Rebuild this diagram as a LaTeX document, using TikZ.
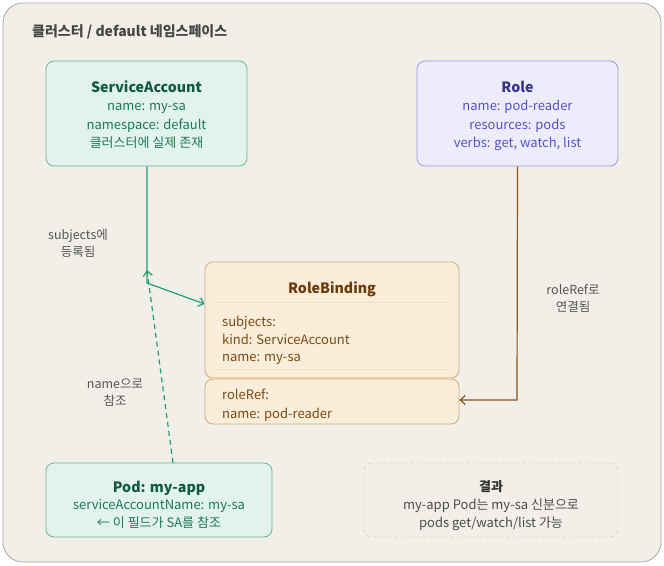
\documentclass[tikz,border=0pt]{standalone}
\usepackage{fontspec}
\setmainfont{Noto Sans CJK KR}
\usetikzlibrary{arrows.meta}
\definecolor{bgc}{HTML}{F1EFE8}
\definecolor{framec}{HTML}{A9A79E}
\definecolor{gfill}{HTML}{E1F3EC}
\definecolor{gdraw}{HTML}{6DB596}
\definecolor{gtitle}{HTML}{0F5A40}
\definecolor{gtext}{HTML}{1D7A55}
\definecolor{pfill}{HTML}{EDECFB}
\definecolor{pdraw}{HTML}{9D97E3}
\definecolor{ptitle}{HTML}{3C3489}
\definecolor{ptext}{HTML}{5A50C8}
\definecolor{ofill}{HTML}{FAEDDA}
\definecolor{odraw}{HTML}{D2AE7C}
\definecolor{osep}{HTML}{EEDFC8}
\definecolor{otitle}{HTML}{6B3A0C}
\definecolor{otext}{HTML}{7A4A12}
\definecolor{garrow}{HTML}{1D9E75}
\definecolor{barrow}{HTML}{8A5518}
\definecolor{lblc}{HTML}{555550}
\definecolor{resdraw}{HTML}{DAD6CC}
\tikzset{
  box/.style={rounded corners=8pt, line width=0.8pt, inner sep=0pt},
  gbox/.style={box, fill=gfill, draw=gdraw},
  pbox/.style={box, fill=pfill, draw=pdraw},
  obox/.style={box, fill=ofill, draw=odraw},
  rbox/.style={box, draw=resdraw, dashed, dash pattern=on 4pt off 3pt},
  ttl/.style={font=\bfseries\fontsize{14.2}{17}\selectfont, inner sep=0pt, anchor=base, yshift=-5pt},
  txt/.style={font=\fontsize{13}{15}\selectfont, inner sep=0pt, anchor=base, yshift=-4.6pt},
  ltxt/.style={font=\fontsize{13}{15}\selectfont, inner sep=0pt, anchor=base west, yshift=-4.6pt},
  lbl/.style={font=\fontsize{12.5}{15}\selectfont, text=lblc, inner sep=0pt, anchor=base, yshift=-4.4pt},
  tip/.style={-{Straight Barb[length=5pt,width=9pt]}}
}
\begin{document}
\begin{tikzpicture}[x=1pt,y=-1pt]
\useasboundingbox (0,0) rectangle (664,565);
\draw[fill=bgc, draw=framec, line width=0.8pt, rounded corners=20pt] (3,3) rectangle (661,562);
\node[font=\bfseries\fontsize{14}{17}\selectfont, text=black!72, anchor=base west, inner sep=0pt, yshift=-5pt] (title) at (32,31) {클러스터 / default 네임스페이스};

% ServiceAccount
\node[gbox, minimum width=201pt, minimum height=105pt] (sa) at (146.5,113.5) {};
\node[ttl, text=gtitle] (sat) at (146.5,87) {ServiceAccount};
\node[txt, text=gtext] (sa1) at (146.5,105.5) {name: my-sa};
\node[txt, text=gtext] (sa2) at (146.5,124.5) {namespace: default};
\node[txt, text=gtext] (sa3) at (146.5,143) {클러스터에 실제 존재};

% Role
\node[pbox, minimum width=201pt, minimum height=105pt] (role) at (517.5,113.5) {};
\node[ttl, text=ptitle] (rt) at (517.5,87) {Role};
\node[txt, text=ptext] (r1) at (517.5,105.5) {name: pod-reader};
\node[txt, text=ptext] (r2) at (517.5,124.5) {resources: pods};
\node[txt, text=ptext] (r3) at (517.5,143) {verbs: get, watch, list};

% RoleBinding
\node[obox, minimum width=254pt, minimum height=116pt] (rb) at (332,320) {};
\node[ttl, text=otitle] (rbt) at (332,288) {RoleBinding};
\draw[osep, line width=0.8pt] (215,302) -- (449,302);
\draw[osep, line width=0.8pt] (215,369) -- (449,369);
\node[ltxt, text=otext] (rb1) at (222,322) {subjects:};
\node[ltxt, text=otext] (rb2) at (222,340) {kind: ServiceAccount};
\node[ltxt, text=otext] (rb3) at (222,357) {name: my-sa};
\node[obox, minimum width=254pt, minimum height=45pt] (rr) at (332,401.5) {};
\node[ltxt, text=otext] (rr1) at (222,395) {roleRef:};
\node[ltxt, text=otext] (rr2) at (222,414) {name: pod-reader};

% Pod
\node[gbox, minimum width=226pt, minimum height=74pt] (pod) at (159,500) {};
\node[ttl, text=gtitle] (podt) at (159,487) {Pod: my-app};
\node[txt, text=gtext] (p1) at (159,505) {serviceAccountName: my-sa};
\node[txt, text=gtext] (p2) at (159,523) {← 이 필드가 SA를 참조};

% Result
\node[rbox, minimum width=254pt, minimum height=74pt] (res) at (491,500) {};
\node[font=\bfseries\fontsize{13}{15}\selectfont, text=black!80, inner sep=0pt, anchor=base, yshift=-4.6pt] (rest) at (491,487) {결과};
\node[txt, text=black!70] (res1) at (491,505) {my-app Pod는 my-sa 신분으로};
\node[txt, text=black!70] (res2) at (491,523) {pods get/watch/list 가능};

% connectors
\coordinate (bend) at (147,283);
\coordinate (meet) at (147,270);
\draw[garrow, line width=1.2pt, tip] (sa.south -| bend) -- (bend) -- (rb.west |- 0,304);
\draw[garrow, line width=1.2pt, dashed, dash pattern=on 5pt off 4pt, tip] (pod.north -| 173,0) -- (meet);
\draw[barrow, line width=1.2pt, tip] (role.south) -- (517,400) -- (rr.east |- 0,400);

% labels
\node[lbl] (l1a) at (78,235) {subjects에};
\node[lbl] (l1b) at (78,252) {등록됨};
\node[lbl] (l2a) at (115,384) {name으로};
\node[lbl] (l2b) at (115,401) {참조};
\node[lbl] (l3a) at (573,290) {roleRef로};
\node[lbl] (l3b) at (573,307) {연결됨};
\end{tikzpicture}
\end{document}
